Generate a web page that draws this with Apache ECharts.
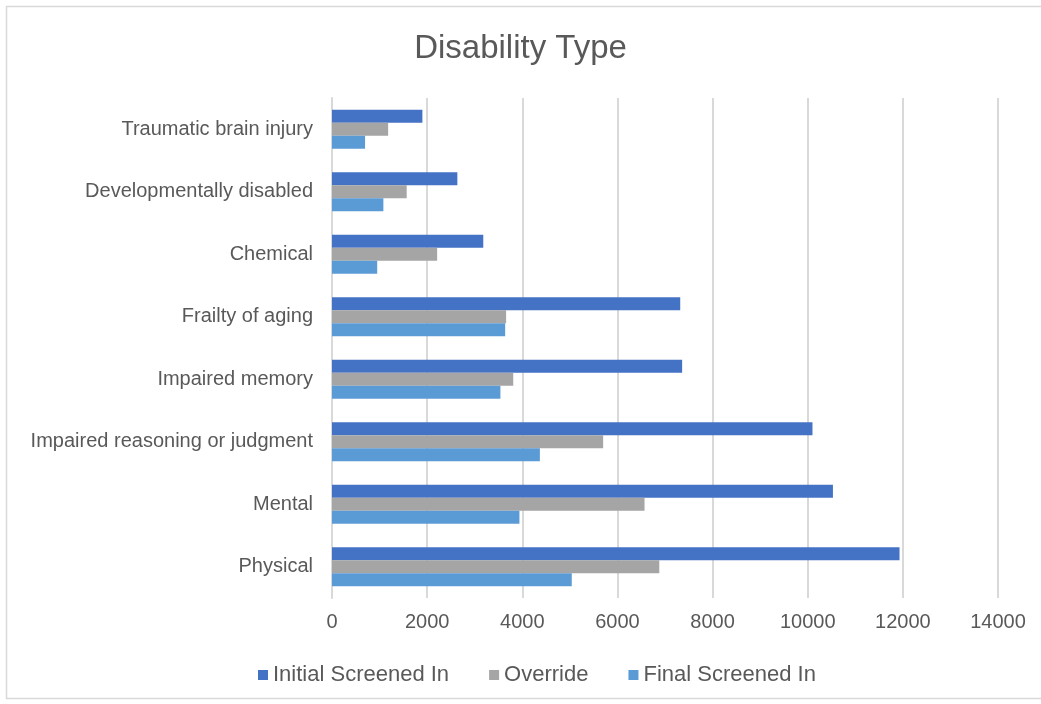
<!DOCTYPE html>
<html>
<head>
<meta charset="utf-8">
<script src="https://cdn.jsdelivr.net/npm/echarts@6/dist/echarts.min.js"></script>
<style>
  html, body { margin: 0; padding: 0; background: #ffffff; }
  #chart { width: 1041px; height: 704px; }
</style>
</head>
<body>
<div id="chart"></div>
<script>
// Disability categories, listed bottom to top along the y axis
const categories = [
  'Physical',
  'Mental',
  'Impaired reasoning or judgment',
  'Impaired memory',
  'Frailty of aging',
  'Chemical',
  'Developmentally disabled',
  'Traumatic brain injury'
];

const initialScreenedIn = [11930, 10530, 10100, 7360, 7320, 3180, 2635, 1900];
const override          = [6880, 6570, 5700, 3810, 3660, 2210, 1570, 1180];
const finalScreenedIn   = [5040, 3940, 4370, 3540, 3640, 950, 1080, 695];

const xTicks = { min: 0, max: 14000, step: 2000 };

const seriesNames = ['Initial Screened In', 'Override', 'Final Screened In'];
const seriesColors = ['#4472c4', '#a5a5a5', '#5b9bd5'];
const seriesValues = [initialScreenedIn, override, finalScreenedIn];

const chart = echarts.init(document.getElementById('chart'), null, { renderer: 'canvas' });

const font = 'Liberation Sans, Arial, sans-serif';
const textGrey = '#595959';

chart.setOption({
  backgroundColor: '#ffffff',
  animation: false,
  textStyle: { fontFamily: font },
  title: {
    text: 'Disability Type',
    left: 'center',
    top: 27,
    textStyle: { fontFamily: font, fontSize: 33, fontWeight: 'normal', color: textGrey }
  },
  legend: {
    data: seriesNames,
    top: 659,
    left: 253,
    itemWidth: 10,
    itemHeight: 10,
    itemGap: 40,
    icon: 'rect',
    textStyle: { fontFamily: font, fontSize: 22, color: textGrey }
  },
  grid: { left: 332, right: 43, top: 98, bottom: 106, containLabel: false },
  xAxis: {
    type: 'value',
    min: xTicks.min,
    max: xTicks.max,
    interval: xTicks.step,
    axisLine: { show: false },
    axisTick: { show: false },
    axisLabel: {
      fontFamily: font, fontSize: 20, color: textGrey, margin: 14,
      formatter: v => String(v)
    },
    splitLine: { lineStyle: { color: '#d9d9d9', width: 2 } }
  },
  yAxis: {
    type: 'category',
    data: categories,
    axisLine: { show: true, lineStyle: { color: '#d9d9d9', width: 2 } },
    axisTick: { show: false },
    axisLabel: { fontFamily: font, fontSize: 20, color: textGrey, margin: 19 }
  },
  series: seriesNames.map((name, i) => ({
    name: name,
    type: 'bar',
    data: seriesValues[i],
    barWidth: 13,
    barGap: '0%',
    barCategoryGap: '37%',
    itemStyle: { color: seriesColors[i] }
  })),
  graphic: [{
    type: 'rect',
    shape: { x: 6.5, y: 6.5, width: 1040, height: 692 },
    style: { fill: 'none', stroke: '#d9d9d9', lineWidth: 1.5 },
    silent: true,
    z: -1
  }]
});
</script>
</body>
</html>
